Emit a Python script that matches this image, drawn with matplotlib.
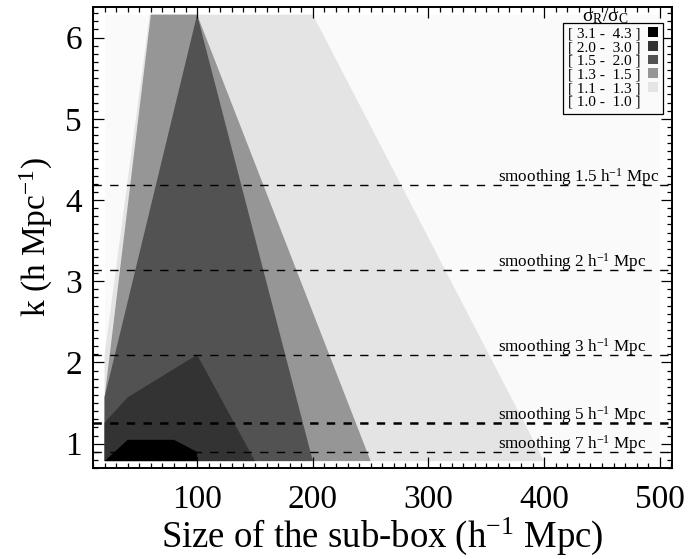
import matplotlib
matplotlib.use("Agg")
import matplotlib.pyplot as plt
from matplotlib.patches import Patch
from matplotlib.ticker import MultipleLocator

plt.rcParams['font.family'] = ['Liberation Serif', 'DejaVu Serif']
plt.rcParams['mathtext.fontset'] = 'custom'
plt.rcParams['mathtext.rm'] = 'Liberation Serif'
plt.rcParams['mathtext.it'] = 'Liberation Serif:italic'
plt.rcParams['lines.scale_dashes'] = False

# ---- data: filled contour regions of sigma_R / sigma_C over (sub-box size, k) ----
levels = [1.0, 1.1, 1.3, 1.5, 2.0, 3.1, 4.3]
level_labels = ['[ 3.1 -  4.3 ]', '[ 2.0 -  3.0 ]', '[ 1.5 -  2.0 ]',
                '[ 1.3 -  1.5 ]', '[ 1.1 -  1.3 ]', '[ 1.0 -  1.0 ]']
band_colors = ['#fafafa', '#e4e4e4', '#969696', '#525252', '#333333', '#000000']

# domain of the measurements
domain_size = [20, 500, 500, 20]
domain_k = [0.785, 0.785, 6.283, 6.283]

# superlevel boundaries (region where ratio >= level)
ge_1p1_size = [59, 20, 20, 400, 200]
ge_1p1_k = [6.283, 2.094, 0.785, 0.785, 6.283]
ge_1p3_size = [60, 20, 20, 250, 100]
ge_1p3_k = [6.283, 1.571, 0.785, 0.785, 6.283]
ge_1p5_size = [100, 20, 20, 200]
ge_1p5_k = [6.283, 1.571, 0.785, 0.785]
ge_2p0_size = [20, 40, 100, 150, 20]
ge_2p0_k = [1.257, 1.571, 2.094, 0.785, 0.785]
ge_3p1_size = [20, 40, 80, 100, 100]
ge_3p1_k = [0.785, 1.047, 1.047, 0.898, 0.785]

regions = [(domain_size, domain_k), (ge_1p1_size, ge_1p1_k), (ge_1p3_size, ge_1p3_k),
           (ge_1p5_size, ge_1p5_k), (ge_2p0_size, ge_2p0_k), (ge_3p1_size, ge_3p1_k)]

# smoothing scales and corresponding k
smoothing_scale = ['1.5', '2', '3', '5', '7']
smoothing_k = [4.189, 3.142, 2.094, 1.257, 0.898]
smoothing_lw = [1.0, 1.0, 1.0, 1.8, 1.0]

# ---- figure ----
W, H = 689, 559
fig = plt.figure(figsize=(W / 100, H / 100), dpi=100)
ax = fig.add_axes([93 / W, 1 - 468 / H, (672 - 93) / W, (468 - 7) / H])

for (xs, ks), c in zip(regions, band_colors):
    ax.fill(xs, ks, color=c, lw=0, zorder=1)

for s, k, lw in zip(smoothing_scale, smoothing_k, smoothing_lw):
    ax.axhline(k, color='black', lw=lw, dashes=(6, 6), zorder=3)
    ax.annotate('smoothing %s h$^{\\mathrm{-1}}$ Mpc' % s, xy=(360, k), xytext=(0, 2.5),
                textcoords='offset points', ha='left', va='baseline', fontsize=12.3,
                zorder=4)

ax.set_xlim(10, 510.5)
ax.set_ylim(0.70, 6.377)
ax.xaxis.set_major_locator(MultipleLocator(100))
ax.xaxis.set_minor_locator(MultipleLocator(10))
ax.yaxis.set_major_locator(MultipleLocator(1))
ax.yaxis.set_minor_locator(MultipleLocator(0.1))
ax.tick_params(which='both', direction='in', top=True, right=True, width=0.9, color='black')
ax.tick_params(which='major', length=8)
ax.tick_params(which='minor', length=3.8)
ax.tick_params(axis='x', which='major', labelsize=24, pad=12)
ax.tick_params(axis='y', which='major', labelsize=24, pad=8)
for sp in ax.spines.values():
    sp.set_linewidth(1.4)
    sp.set_zorder(5)

ax.set_xlabel('Size of the sub-box (h$^{\\mathrm{-1}}$ Mpc)', fontsize=26.5, labelpad=0)
ax.set_ylabel('k (h Mpc$^{\\mathrm{-1}}$)', fontsize=24, labelpad=7)

handles = [Patch(facecolor=c, edgecolor='none') for c in band_colors[::-1]]
handles[-1] = Patch(facecolor='#fafafa', edgecolor='none')
leg = fig.legend(handles, level_labels, loc='upper right',
                 bbox_to_anchor=(663 / W, 1 - 22.7 / H), bbox_transform=fig.transFigure,
                 markerfirst=False, fontsize=11, frameon=True, fancybox=False,
                 edgecolor='black', framealpha=1, facecolor='#fafafa',
                 handlelength=0.7, handleheight=0.6, handletextpad=0.5,
                 labelspacing=0.03, borderpad=0.3, borderaxespad=0)
leg.get_frame().set_linewidth(0.9)
fig.text(605 / W, 1 - 16 / H, 'σ$_{\\mathrm{R}}$/σ$_{\\mathrm{C}}$', ha='center', va='center',
         fontsize=14)

fig.savefig('out.png', dpi=100)
